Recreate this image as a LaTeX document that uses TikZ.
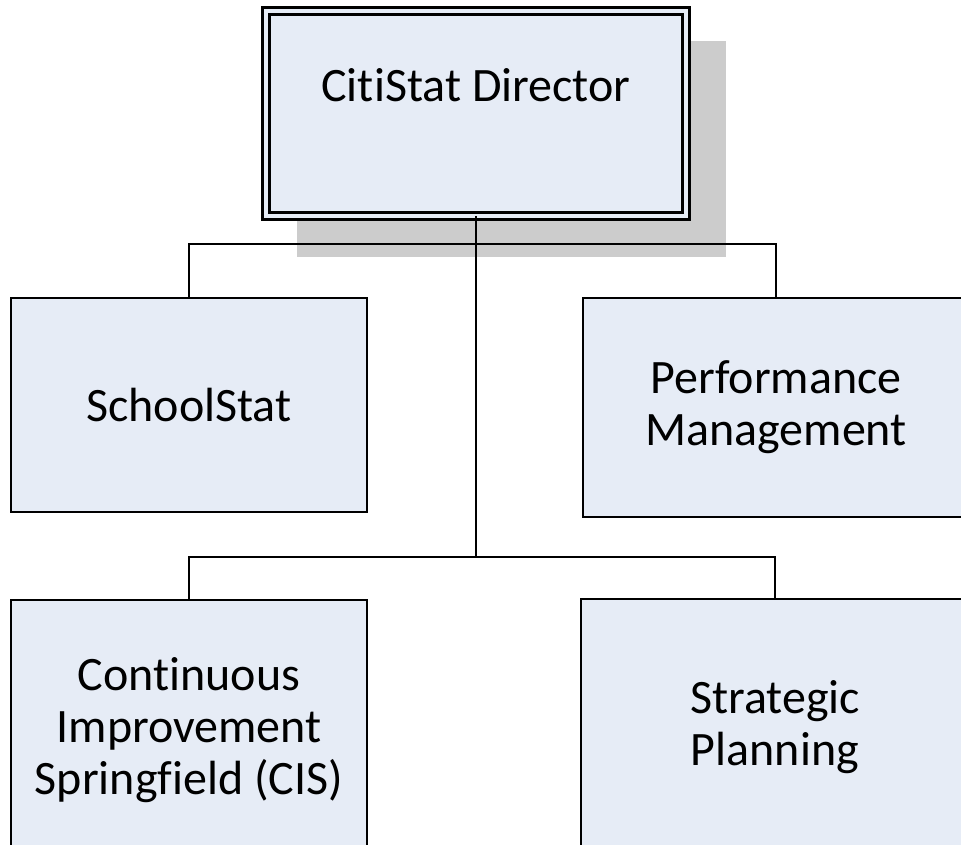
\documentclass[tikz,border=0pt]{standalone}
\usepackage{fontspec}
\setmainfont{Carlito}[Ligatures={NoCommon,NoContextual}, Contextuals=NoAlternate]
\usepackage{xcolor}
\usepackage{tikz}
\usetikzlibrary{calc}
\definecolor{boxfill}{RGB}{230,236,246}
\definecolor{shadowgray}{RGB}{204,204,204}

\begin{document}
\begin{tikzpicture}[x=1pt, y=-1pt,
    every node/.style={font=\fontsize{48}{52}\selectfont},
    orgbox/.style={rectangle, draw=black, fill=boxfill, line width=2.5pt,
      align=center, outer sep=0pt, inner sep=0pt},
    headbox/.style={orgbox, line width=3pt, double=boxfill, double distance=4pt},
    link/.style={line width=2pt}]
  \useasboundingbox (0,0) rectangle (961,845);
  % shadow behind the director box
  \fill[shadowgray] (297,41) rectangle (726,257);
  \node[headbox, minimum width=420pt, minimum height=205pt,
    label={[anchor=north, yshift=-57pt, inner sep=0pt]north:CitiStat Director}]
    (director) at (476,113.5) {};
  \node[orgbox, minimum width=356pt, minimum height=214pt] (school) at (189,405) {SchoolStat};
  \node[orgbox, minimum width=386pt, minimum height=219pt] (perf) at (776,407.5) {Performance\\Management};
  \node[orgbox, minimum width=356pt, minimum height=260pt] (cis) at (189,730) {Continuous\\Improvement\\Springfield (CIS)};
  \node[orgbox, minimum width=388pt, minimum height=256pt] (strat) at (775,727) {Strategic\\Planning};
  \coordinate (bus1) at (476,244);
  \coordinate (bus2) at (476,557);
  \draw[link] (director.south) -- (bus2);
  \draw[link] (school.north) |- (bus1) -| (perf.north);
  \draw[link] (cis.north) |- (bus2) -| (strat.north);
\end{tikzpicture}
\end{document}
